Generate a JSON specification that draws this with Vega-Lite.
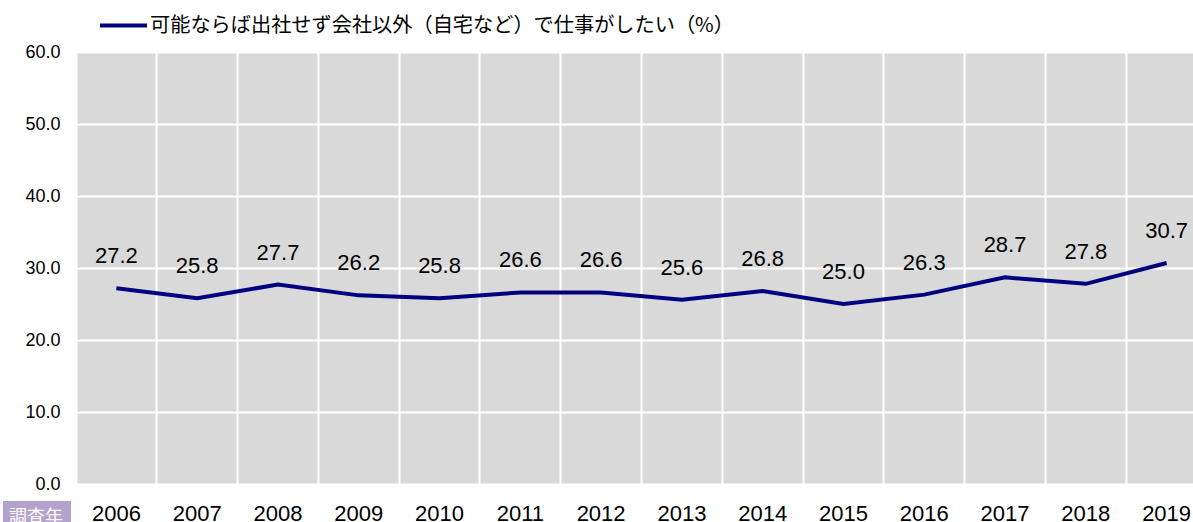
{
  "$schema": "https://vega.github.io/schema/vega-lite/v6.json",
  "width": 1131,
  "height": 432,
  "autosize": {"type": "none"},
  "padding": {"left": 76, "top": 52, "right": 0, "bottom": 38},
  "background": "white",
  "config": {"view": {"fill": "#d9d9d9", "stroke": null}, "font": "Liberation Sans"},
  "data": {
    "values": [
      {"year": "2006", "value": 27.2, "series": "可能ならば出社せず会社以外（自宅など）で仕事がしたい（%）", "axisTitle": "調査年"},
      {"year": "2007", "value": 25.8, "series": "可能ならば出社せず会社以外（自宅など）で仕事がしたい（%）", "axisTitle": "調査年"},
      {"year": "2008", "value": 27.7, "series": "可能ならば出社せず会社以外（自宅など）で仕事がしたい（%）", "axisTitle": "調査年"},
      {"year": "2009", "value": 26.2, "series": "可能ならば出社せず会社以外（自宅など）で仕事がしたい（%）", "axisTitle": "調査年"},
      {"year": "2010", "value": 25.8, "series": "可能ならば出社せず会社以外（自宅など）で仕事がしたい（%）", "axisTitle": "調査年"},
      {"year": "2011", "value": 26.6, "series": "可能ならば出社せず会社以外（自宅など）で仕事がしたい（%）", "axisTitle": "調査年"},
      {"year": "2012", "value": 26.6, "series": "可能ならば出社せず会社以外（自宅など）で仕事がしたい（%）", "axisTitle": "調査年"},
      {"year": "2013", "value": 25.6, "series": "可能ならば出社せず会社以外（自宅など）で仕事がしたい（%）", "axisTitle": "調査年"},
      {"year": "2014", "value": 26.8, "series": "可能ならば出社せず会社以外（自宅など）で仕事がしたい（%）", "axisTitle": "調査年"},
      {"year": "2015", "value": 25.0, "series": "可能ならば出社せず会社以外（自宅など）で仕事がしたい（%）", "axisTitle": "調査年"},
      {"year": "2016", "value": 26.3, "series": "可能ならば出社せず会社以外（自宅など）で仕事がしたい（%）", "axisTitle": "調査年"},
      {"year": "2017", "value": 28.7, "series": "可能ならば出社せず会社以外（自宅など）で仕事がしたい（%）", "axisTitle": "調査年"},
      {"year": "2018", "value": 27.8, "series": "可能ならば出社せず会社以外（自宅など）で仕事がしたい（%）", "axisTitle": "調査年"},
      {"year": "2019", "value": 30.7, "series": "可能ならば出社せず会社以外（自宅など）で仕事がしたい（%）", "axisTitle": "調査年"}
    ]
  },
  "encoding": {
    "x": {
      "field": "year", "type": "ordinal",
      "scale": {"type": "band", "paddingInner": 0, "paddingOuter": 0},
      "axis": {
        "title": null, "labelAngle": 0, "labelFontSize": 22, "labelColor": "#000000",
        "labelFont": "Liberation Sans", "ticks": false, "domain": false, "grid": true,
        "gridColor": "white", "gridWidth": 2, "bandPosition": 0,
        "labelPadding": 36, "labelBaseline": "alphabetic"
      }
    },
    "y": {
      "field": "value", "type": "quantitative",
      "scale": {"domain": [0, 60]},
      "axis": {
        "title": null, "values": [0, 10, 20, 30, 40, 50, 60], "format": ".1f",
        "labelFontSize": 18, "labelColor": "#000000", "labelFont": "Liberation Sans",
        "ticks": false, "domain": false, "grid": true, "gridColor": "white", "gridWidth": 2,
        "labelPadding": 16
      }
    }
  },
  "layer": [
    {
      "mark": {"type": "line", "strokeWidth": 4},
      "encoding": {
        "color": {
          "field": "series", "type": "nominal",
          "scale": {"range": ["#000080"]},
          "legend": {
            "orient": "none", "legendX": 22, "legendY": -52, "title": null,
            "symbolType": "stroke", "symbolSize": 2209, "symbolStrokeWidth": 4,
            "labelFontSize": 20.2, "labelFont": "Noto Sans CJK JP", "labelColor": "#000000",
            "labelOffset": 1, "labelLimit": 0, "padding": 0
          }
        }
      }
    },
    {
      "mark": {"type": "text", "dy": -32, "fontSize": 22, "font": "Liberation Sans", "color": "#000000"},
      "encoding": {"text": {"field": "value", "type": "quantitative", "format": ".1f"}}
    },
    {
      "mark": {"type": "point", "opacity": 0},
      "encoding": {
        "shape": {
          "field": "axisTitle", "type": "nominal",
          "legend": {
            "orient": "none", "legendX": -73, "legendY": 449, "title": null,
            "symbolSize": 0, "symbolOpacity": 0, "symbolStrokeWidth": 0,
            "labelFontSize": 18, "labelFont": "Noto Sans CJK JP", "labelColor": "white",
            "fillColor": "#b3a2cc", "padding": 8, "labelOffset": -20
          }
        }
      }
    }
  ]
}
